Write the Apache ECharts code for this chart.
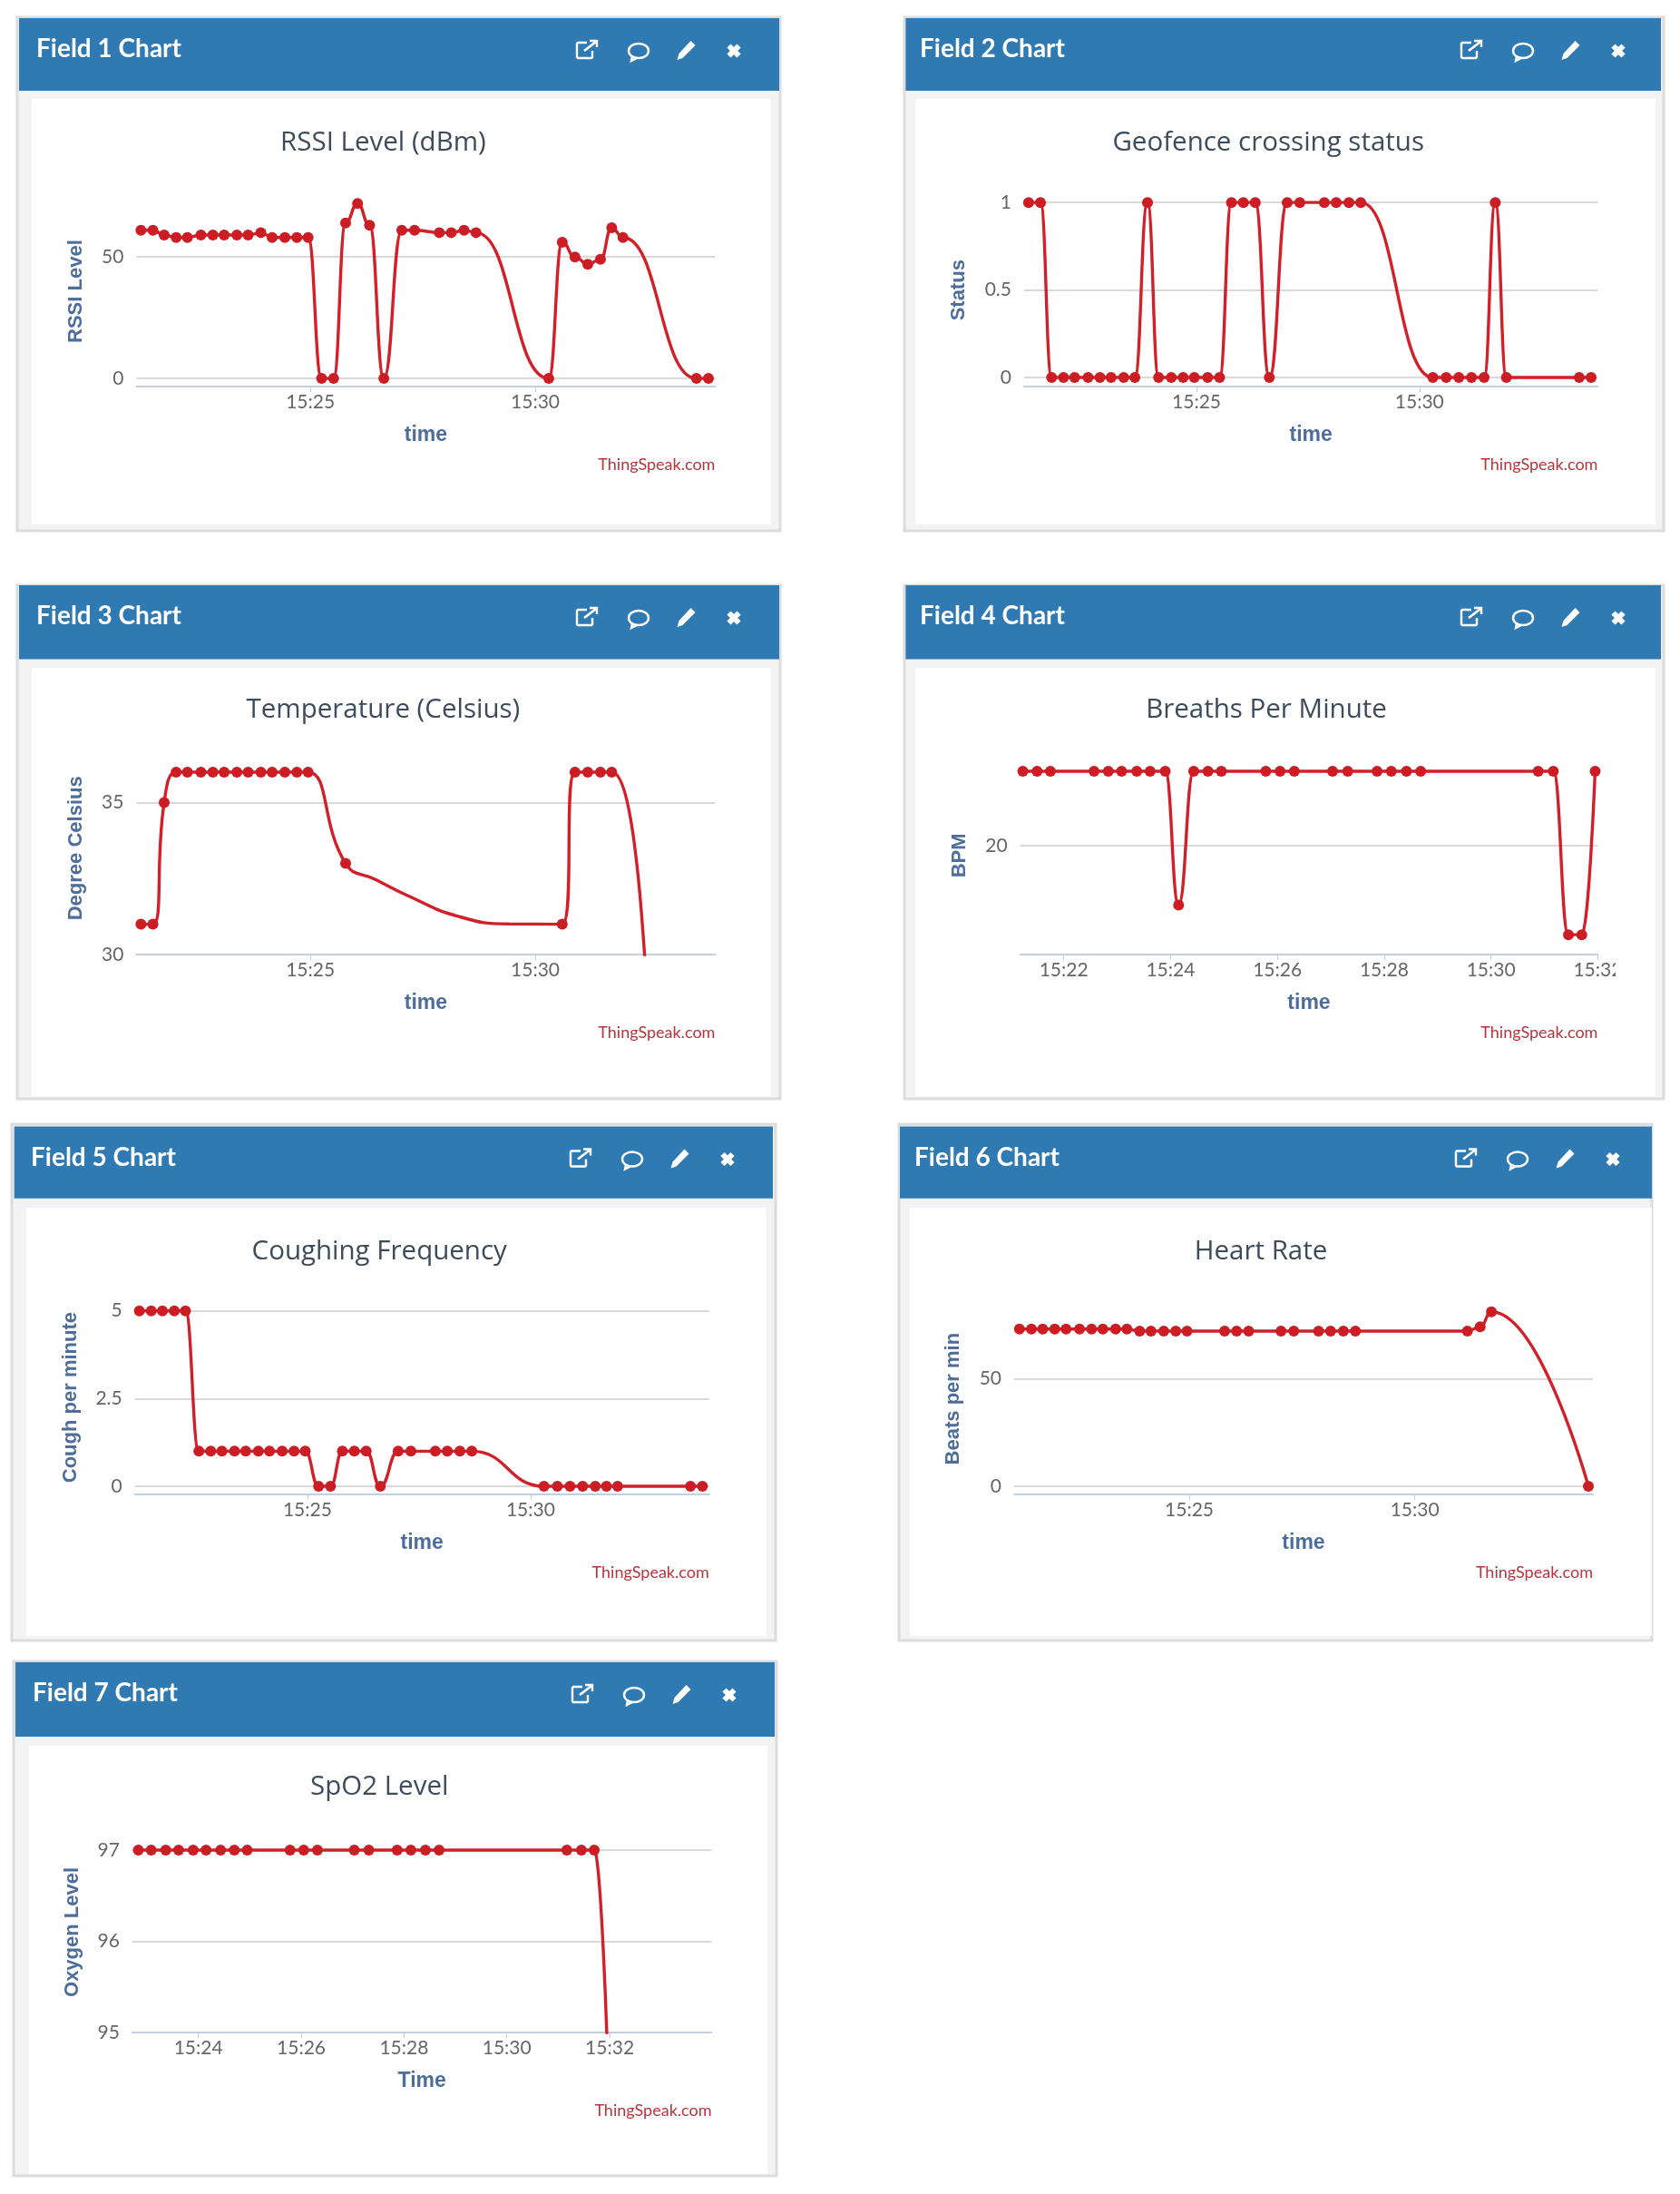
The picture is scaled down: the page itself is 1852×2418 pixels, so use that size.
<!DOCTYPE html>
<html>
<head>
<meta charset="utf-8">
<title>ThingSpeak field charts</title>
<script src="https://cdn.jsdelivr.net/npm/echarts@6/dist/echarts.min.js"></script>
<style>html,body{margin:0;padding:0;background:#fff}#c{width:1852px;height:2418px}</style>
</head>
<body>
<div id="c"></div>
<script>
// ---------- data ----------
const times = ['15:21:14','15:21:30','15:21:45','15:22:01','15:22:16','15:22:34','15:22:50','15:23:05','15:23:22','15:23:37','15:23:54','15:24:09','15:24:26','15:24:42','15:24:57','15:25:15','15:25:31','15:25:47','15:26:03','15:26:19','15:26:38','15:27:02','15:27:19','15:27:52','15:28:08','15:28:25','15:28:41','15:30:18','15:30:36','15:30:53','15:31:10','15:31:27','15:31:42','15:31:57','15:33:35','15:33:51'];
const _ = null;
const field1 = [61,61,59,58,58,59,59,59,59,59,60,58,58,58,58,0,0,64,72,63,0,61,61,60,60,61,60,0,56,50,47,49,62,58,0,0];
const field2 = [1,1,0,0,0,0,0,0,0,0,1,0,0,0,0,0,0,1,1,1,0,1,1,1,1,1,1,0,0,0,0,0,1,0,0,0];
const field3 = [31,31,35,36,36,36,36,36,36,36,36,36,36,36,36,_,_,33,_,_,_,_,_,_,_,_,_,_,31,36,36,36,36,_,14,14];
const field4 = [25,25,25,_,_,25,25,25,25,25,25,16,25,25,25,_,_,25,25,25,_,25,25,25,25,25,25,_,_,25,25,14,14,25,_,_];
const field5 = [5,5,5,5,5,1,1,1,1,1,1,1,1,1,1,0,0,1,1,1,0,1,1,1,1,1,1,0,0,0,0,0,0,0,0,0];
const field6 = [73,73,73,73,73,73,73,73,73,73,72,72,72,72,72,_,_,72,72,72,_,72,72,72,72,72,72,_,_,_,72,74,81,_,_,0];
const field7 = [_,_,_,_,_,_,97,97,97,97,97,97,97,97,97,_,_,97,97,97,_,97,97,97,97,97,97,_,_,_,97,97,97,94.9,_,_];
// unmarked stretch of the Field 3 curve
const field3CurveTimes = ['15:26:28','15:27:09','15:28:17','15:29:25'];
const field3CurveValues = [32.46,31.95,31.26,31.01];

const headers = ['Field 1 Chart','Field 2 Chart','Field 3 Chart','Field 4 Chart','Field 5 Chart','Field 6 Chart','Field 7 Chart'];
const chartTitles = ['RSSI Level (dBm)','Geofence crossing status','Temperature (Celsius)','Breaths Per Minute','Coughing Frequency','Heart Rate','SpO2 Level'];
const yNames = ['RSSI Level','Status','Degree Celsius','BPM','Cough per minute','Beats per min','Oxygen Level'];
const xNames = ['time','time','time','time','time','time','Time'];
const xTicks5 = ['15:25:00','15:30:00'];
const xTicks4 = ['15:22:00','15:24:00','15:26:00','15:28:00','15:30:00','15:32:00'];
const xTicks7 = ['15:24:00','15:26:00','15:28:00','15:30:00','15:32:00'];
const yTicks1 = [0,50], yTicks2 = [0,0.5,1], yTicks3 = [30,35], yTicks4 = [20], yTicks5 = [0,2.5,5], yTicks6 = [0,50], yTicks7 = [95,96,97];
const fieldValues = [field1,field2,field3,field4,field5,field6,field7];
const xTickSets = [xTicks5,xTicks5,xTicks5,xTicks4,xTicks5,xTicks5,xTicks7];
const yTickSets = [yTicks1,yTicks2,yTicks3,yTicks4,yTicks5,yTicks6,yTicks7];

// ---------- layout ----------
const layout = [
 {o:[19,19,860,585],h:[21,20,859,100],w:[35,109,850,578],g:[150.4,216.2,788.4,426],y:[-3.32,75],x:['15:21:08','15:34:00'],yg:55,hx:40,ix:0},
 {o:[997,19,1834,585],h:[998.4,20,1831,100],w:[1009,109,1825,578],g:[1129,213.5,1761.4,426],y:[-0.052,1.05],x:['15:21:08','15:34:00'],yg:61,hx:1014,ix:3},
 {o:[19,645,860,1211],h:[21,645,859,726.4],w:[35,736,850,1208],g:[150.4,817.5,788.4,1052.1],y:[30,37],x:['15:21:08','15:34:00'],yg:55,hx:40,ix:0},
 {o:[997,645,1834,1211],h:[998.4,645,1831,726.4],w:[1009,736,1825,1208],g:[1124.6,833.6,1761.4,1052.1],y:[12.66,26],x:['15:21:11','15:32:00'],yg:56,hx:1014,ix:3},
 {o:[13,1239,855,1808],h:[15.7,1241.5,852,1320.7],w:[29,1331,844.5,1803],g:[148.7,1433.1,781.7,1647.1],y:[-0.235,5.3],x:['15:21:08','15:34:00'],yg:60,hx:34,ix:0},
 {o:[991,1239,1821,1808],h:[992,1241.5,1821,1320.7],w:[1003,1331,1821,1803],g:[1118,1436.2,1756,1647.1],y:[-3.83,85],x:['15:21:07','15:33:57'],yg:56,hx:1008,ix:7},
 {o:[15,1831,856,2398],h:[17,1832,854,1914],w:[32,1924,846,2396],g:[145.9,2018.9,784.5,2240],y:[95,97.2],x:['15:22:43','15:33:59'],yg:55,hx:36,ix:0}
];
const pageW = 1852, pageH = 2418;
const C = {head:'#2f7ab2',band:'#f3f3f3',border:'#dcdcdc',grid:'#d9d9d9',axis:'#c0d0e0',tickText:'#666666',axisText:'#4d6d9a',title:'#3e4b5b',credit:'#b8343c',line:'#d2202a',dot:'#cc1d25'};
const ts = s => new Date('2021-03-01T' + s).getTime();
const hhmm = v => { const d = new Date(v); return String(d.getHours()).padStart(2,'0') + ':' + String(d.getMinutes()).padStart(2,'0'); };

const grid=[],xAxis=[],yAxis=[],series=[],title=[],graphic=[];
const rect=(b,fill,z,stroke)=>({type:'rect',z:z,silent:true,shape:{x:b[0],y:b[1],width:b[2]-b[0],height:b[3]-b[1]},style:stroke?{fill:fill,stroke:stroke,lineWidth:3}:{fill:fill}});
const place=(pts,cx,cy)=>pts.map(p=>[p[0]+cx,p[1]+cy]);
const pl=(pts,cx,cy,w)=>({type:'polyline',z:-5,silent:true,shape:{points:place(pts,cx,cy)},style:{fill:'none',stroke:'#fff',lineWidth:w}});
const pg=(pts,cx,cy)=>({type:'polygon',z:-5,silent:true,shape:{points:place(pts,cx,cy)},style:{fill:'#fff'}});

layout.forEach((L,i)=>{
  graphic.push(rect(L.o,C.band,-10,C.border),rect(L.w,'#ffffff',-9),rect(L.h,C.head,-8));
  const r=L.h[2]+L.ix, cy=L.h[1];
  // external-link icon
  graphic.push(pl([[0,-7],[-10,-7],[-11,-6],[-11,9],[-10,10],[5,10],[6,9],[6,2]],r-212,cy+34,2.4));
  graphic.push(pl([[-3,2],[10,-8]],r-212,cy+34,2.8),pl([[3,-9],[11,-9],[11,-2]],r-212,cy+34,2.4));
  // comment icon
  graphic.push({type:'ellipse',z:-5,silent:true,shape:{cx:r-155,cy:cy+36,rx:11,ry:8},style:{fill:'none',stroke:'#fff',lineWidth:2.4}});
  graphic.push(pl([[-7,6],[-8,11],[-2,8]],r-155,cy+36,2.4));
  // pencil icon
  graphic.push(pg([[5,-10],[10,-5],[-4,9],[-10,11],[-8,4]],r-102.5,cy+35));
  // close icon
  graphic.push(pl([[-5.5,-5.5],[5.5,5.5]],r-50,cy+36,6),pl([[5.5,-5.5],[-5.5,5.5]],r-50,cy+36,6));

  title.push({text:headers[i],left:L.hx,top:L.h[1]+34,textVerticalAlign:'middle',padding:0,
    textStyle:{color:'#fff',fontFamily:'Lato',fontWeight:'bold',fontSize:28}});
  title.push({text:chartTitles[i],left:(L.g[0]+L.g[2])/2-47,top:L.h[1]+138,textAlign:'center',textVerticalAlign:'middle',padding:0,
    textStyle:{color:C.title,fontFamily:'Open Sans',fontWeight:'normal',fontSize:29.5}});
  title.push({text:'ThingSpeak.com',left:L.g[2],top:L.g[3]+86,textAlign:'right',textVerticalAlign:'middle',padding:0,
    textStyle:{color:C.credit,fontFamily:'Lato',fontWeight:'normal',fontSize:18}});

  grid.push({left:L.g[0],top:L.g[1],width:L.g[2]-L.g[0],height:L.g[3]-L.g[1],containLabel:false});
  const xv=xTickSets[i].map(ts);
  xAxis.push({type:'value',gridIndex:i,min:ts(L.x[0]),max:ts(L.x[1]),name:xNames[i],nameLocation:'middle',nameGap:42,
    nameTextStyle:{color:C.axisText,fontFamily:'Liberation Sans',fontWeight:'bold',fontSize:23},
    axisLine:{show:true,onZero:false,lineStyle:{color:C.axis,width:2}},
    axisTick:{show:true,length:6,customValues:xv,lineStyle:{color:C.axis,width:1}},
    axisLabel:{margin:7,color:C.tickText,fontFamily:'Lato',fontSize:21,customValues:xv,hideOverlap:false,showMinLabel:true,showMaxLabel:true,formatter:v=>hhmm(v)},
    splitLine:{show:false},minorTick:{show:false}});
  yAxis.push({type:'value',gridIndex:i,min:L.y[0],max:L.y[1],name:yNames[i],nameLocation:'middle',nameGap:L.yg,nameRotate:90,
    nameTextStyle:{color:C.axisText,fontFamily:'Liberation Sans',fontWeight:'bold',fontSize:22},
    axisLine:{show:false},axisTick:{show:false,customValues:yTickSets[i]},
    axisLabel:{margin:14,color:C.tickText,fontFamily:'Lato',fontSize:21,customValues:yTickSets[i],showMinLabel:true,showMaxLabel:true},
    splitLine:{show:true,lineStyle:{color:C.grid,width:2}}});
  const pts=[];
  fieldValues[i].forEach((v,k)=>{ if(v!==null) pts.push({value:[ts(times[k]),v]}); });
  if(i===2){
    field3CurveTimes.forEach((t,k)=>pts.push({value:[ts(t),field3CurveValues[k]],symbol:'none'}));
    pts.sort((a,b)=>a.value[0]-b.value[0]);
  }
  series.push({type:'line',xAxisIndex:i,yAxisIndex:i,data:pts,smooth:true,smoothMonotone:i===2?null:'x',showAllSymbol:true,symbol:'circle',symbolSize:12,clip:true,
    lineStyle:{color:C.line,width:3.4},itemStyle:{color:C.dot},animation:false,silent:true,z:3});
});
// the Field 4 card cuts its last tick label at the chart's right edge
graphic.push({type:'rect',z:100,silent:true,shape:{x:1781,y:1056,width:30,height:36},style:{fill:'#fff'}});

const chart=echarts.init(document.getElementById('c'),null,{renderer:'canvas',width:pageW,height:pageH});
chart.setOption({animation:false,backgroundColor:'#fff',tooltip:{show:false},legend:{show:false},title,grid,xAxis,yAxis,series,graphic});
</script>
</body>
</html>
